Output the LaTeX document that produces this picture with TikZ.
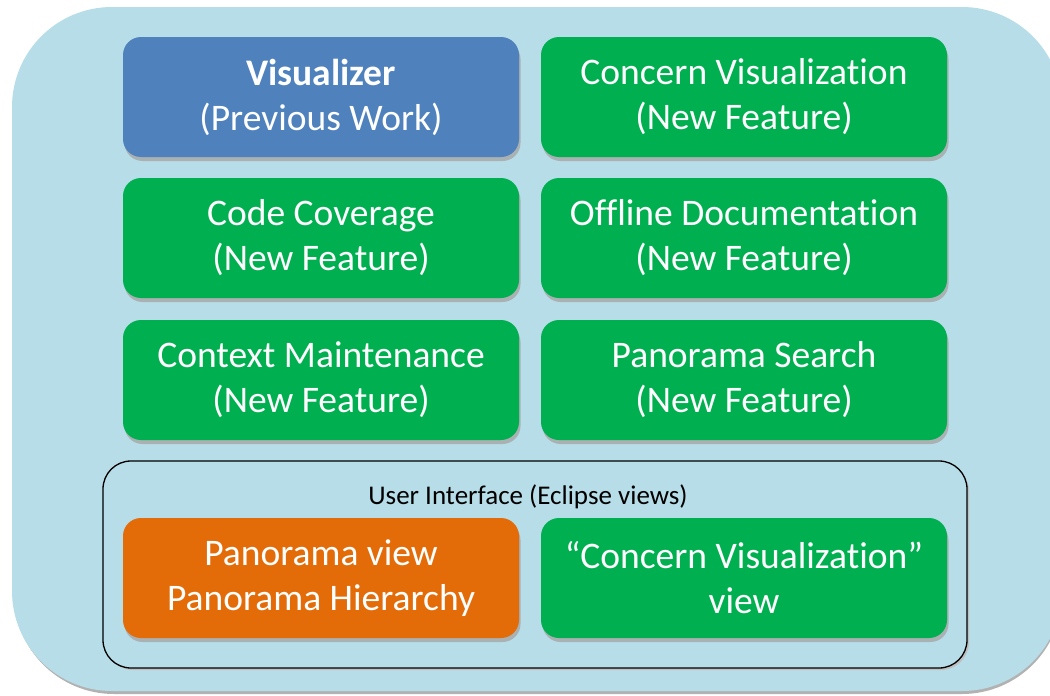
\documentclass[tikz,border=0pt]{standalone}
\usepackage{fontspec}
\setmainfont[Ligatures=NoCommon]{Carlito}
\usetikzlibrary{shadows}
\definecolor{bgblue}{HTML}{B7DDE8}
\definecolor{boxblue}{HTML}{4F81BD}
\definecolor{boxgreen}{HTML}{00B050}
\definecolor{boxorange}{HTML}{E36C09}
\tikzset{
  feat/.style={rounded corners=18pt, minimum width=396pt, minimum height=120pt,
    inner sep=0pt, align=center, text=white,
    font=\fontsize{37.5}{45}\selectfont,
    drop shadow={shadow xshift=1.5pt, shadow yshift=-4pt, fill=gray!70, opacity=0.8}},
  featL/.style={feat, minimum width=396pt},
  featR/.style={feat, minimum width=406pt},
}
\begin{document}
\begin{tikzpicture}[x=1pt,y=-1pt]
\useasboundingbox (0,0) rectangle (1050,696);
% background
\fill[gray!60] (14,10) [rounded corners=100pt] rectangle (1062,694);
\node[fill=bgblue, rounded corners=100pt, minimum width=1050pt, minimum height=684pt, inner sep=0pt] (bg) at (537,349) {};
% UI frame
\fill[gray!50] (105,463) [rounded corners=28pt] rectangle (969,670);
\node[draw=black, line width=1.3pt, fill=bgblue, rounded corners=28pt, minimum width=864pt, minimum height=207pt, inner sep=0pt] (ui) at (535,564.5) {};
\node[font=\fontsize{27}{30}\selectfont, text=black] (uilabel) at (528,497) {User Interface (Eclipse views)};
% boxes
\node[featL, fill=boxblue] (vis) at (321,97) {\textbf{Visualizer}\\(Previous Work)};
\node[featR, fill=boxgreen] (cv) at (744,97) {Concern Visualization\\(New Feature)};
\node[featL, fill=boxgreen] (cc) at (321,238) {Code Coverage\\(New Feature)};
\node[featR, fill=boxgreen] (od) at (744,238) {Offline Documentation\\(New Feature)};
\node[featL, fill=boxgreen] (cm) at (321,380) {Context Maintenance\\(New Feature)};
\node[featR, fill=boxgreen] (ps) at (744,380) {Panorama Search\\(New Feature)};
\node[featL, fill=boxorange] (pv) at (321,578) {Panorama view\\Panorama Hierarchy};
\node[featR, fill=boxgreen] (cvv) at (744,578) {“Concern Visualization”\\view};
\end{tikzpicture}
\end{document}
